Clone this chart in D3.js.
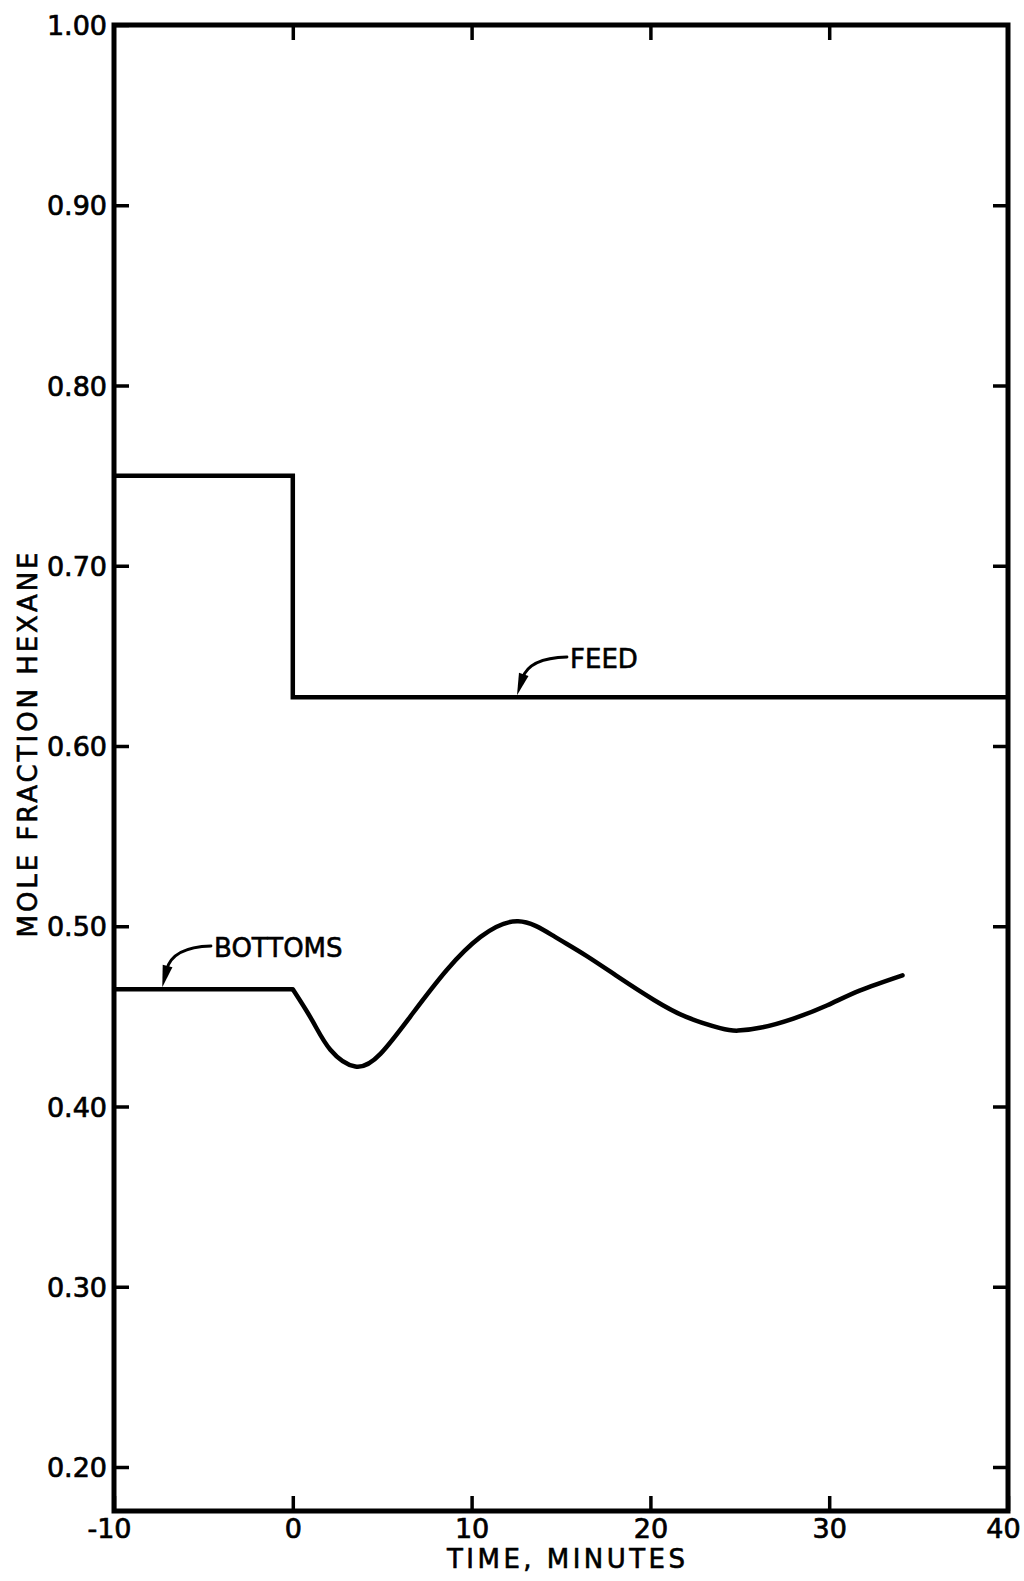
<!DOCTYPE html>
<html>
<head>
<meta charset="utf-8">
<script src="https://cdn.jsdelivr.net/npm/d3@7"></script>
<style>
  html, body { margin: 0; padding: 0; background: #fff; }
  svg { display: block; }
  text { font-family: "DejaVu Sans", "Liberation Sans", sans-serif; fill: #000; }
</style>
</head>
<body>
<svg id="chart" width="1024" height="1581"></svg>
<script>
// ---- data ----
const yTickValues = [0.2, 0.3, 0.4, 0.5, 0.6, 0.7, 0.8, 0.9, 1.0];
const xTickValues = [-10, 0, 10, 20, 30, 40];
const xLabel = "TIME, MINUTES";
const yLabel = "MOLE FRACTION HEXANE";

const feedTime  = [-10, 0, 0, 40];
const feedValue = [0.75, 0.75, 0.627, 0.627];

const bottomsFlatTime  = [-10, 0];
const bottomsFlatValue = [0.465, 0.465];

const bottomsTime  = [0, 1.1, 2.1, 3.5, 4.9, 6.7, 8.6, 10.5, 12.6, 14.6, 16.4, 18.3, 20.2, 22.0, 23.9, 24.9, 26.2, 28.0, 29.9, 31.7, 34.1];
const bottomsValue = [0.465, 0.4475, 0.4315, 0.4222, 0.4292, 0.4516, 0.4756, 0.4941, 0.5028, 0.4945, 0.4837, 0.4712, 0.4591, 0.4497, 0.4435, 0.4421, 0.4438, 0.4488, 0.4562, 0.4643, 0.4728];

// ---- layout ----
const L = 114, R = 1008, T = 25, B = 1511;
const svg = d3.select("#chart");

const x = d3.scaleLinear().domain([-10, 40]).range([L, R]);
const y = d3.scaleLinear().domain([0.2, 1.0]).range([1467, T]);

const tickLen = 15;
const fontSize = 27;

// left axis with labels
const gL = svg.append("g").attr("transform", `translate(${L},0)`)
  .call(d3.axisLeft(y).tickValues(yTickValues).tickFormat(d3.format(".2f"))
        .tickSizeInner(-tickLen).tickSizeOuter(0).tickPadding(7));
// bottom axis with labels
const gB = svg.append("g").attr("transform", `translate(0,${B})`)
  .call(d3.axisBottom(x).tickValues(xTickValues).tickFormat(d => String(d))
        .tickSizeInner(-tickLen).tickSizeOuter(0).tickPadding(8));
// right axis ticks only
const gR = svg.append("g").attr("transform", `translate(${R},0)`)
  .call(d3.axisRight(y).tickValues(yTickValues.slice(0, -1)).tickFormat("")
        .tickSizeInner(-tickLen).tickSizeOuter(0));
// top axis ticks only
const gT = svg.append("g").attr("transform", `translate(0,${T})`)
  .call(d3.axisTop(x).tickValues(xTickValues.slice(1, -1)).tickFormat("")
        .tickSizeInner(-tickLen).tickSizeOuter(0));

[gL, gB, gR, gT].forEach(g => {
  g.select(".domain").remove();
  g.selectAll(".tick line").attr("stroke", "#000").attr("stroke-width", 3.5);
  g.selectAll(".tick text")
    .style("font-family", '"DejaVu Sans", sans-serif')
    .style("font-size", fontSize + "px")
    .attr("fill", "#000")
    .attr("stroke", "#000").attr("stroke-width", 0.7);
});
gL.selectAll(".tick text").attr("dy", "0.36em");
gB.selectAll(".tick text").attr("dx", (d, i, n) => (i === 0 || i === n.length - 1) ? -5 : 0);

// frame
svg.append("rect")
  .attr("x", L).attr("y", T).attr("width", R - L).attr("height", B - T)
  .attr("fill", "none").attr("stroke", "#000").attr("stroke-width", 5);

// axis titles
svg.append("text")
  .attr("x", 566).attr("y", 1568)
  .attr("text-anchor", "middle")
  .attr("textLength", 238).attr("lengthAdjust", "spacing")
  .style("font-size", "26px")
  .attr("stroke", "#000").attr("stroke-width", 0.6)
  .text(xLabel);

svg.append("text")
  .attr("transform", "translate(37,745) rotate(-90)")
  .attr("text-anchor", "middle")
  .attr("textLength", 385).attr("lengthAdjust", "spacing")
  .style("font-size", "26px")
  .attr("stroke", "#000").attr("stroke-width", 0.6)
  .text(yLabel);

// series
const line = d3.line().x(d => x(d[0])).y(d => y(d[1]));

svg.append("path")
  .datum(feedTime.map((t, i) => [t, feedValue[i]]))
  .attr("d", line)
  .attr("fill", "none").attr("stroke", "#000").attr("stroke-width", 4.5)
  .attr("stroke-linejoin", "miter");

svg.append("path")
  .datum(bottomsFlatTime.map((t, i) => [t, bottomsFlatValue[i]]))
  .attr("d", line)
  .attr("fill", "none").attr("stroke", "#000").attr("stroke-width", 4.5);

svg.append("path")
  .datum(bottomsTime.map((t, i) => [t, bottomsValue[i]]))
  .attr("d", d3.line().x(d => x(d[0])).y(d => y(d[1])).curve(d3.curveNatural))
  .attr("fill", "none").attr("stroke", "#000").attr("stroke-width", 4.5)
  .attr("stroke-linecap", "round");

// annotation labels with curved arrows
function annotate(label, textX, textY, tipT, tipV, ctrlDx) {
  const ex = x(tipT), ey = y(tipV) - 2;
  const sx = textX - 3, sy = textY - 11;
  const cx = ex + ctrlDx, cy = sy + 1;
  let dx = ex - cx, dy = ey - cy;
  const len = Math.hypot(dx, dy); dx /= len; dy /= len;
  const headL = 22, headW = 5;
  const bx = ex - dx * headL, by = ey - dy * headL;
  svg.append("path")
    .attr("d", `M${sx},${sy} Q${cx},${cy} ${bx + dx * 4},${by + dy * 4}`)
    .attr("fill", "none").attr("stroke", "#000").attr("stroke-width", 2.8)
    .attr("stroke-linecap", "round");
  svg.append("path")
    .attr("d", `M${ex},${ey} L${bx - dy * headW},${by + dx * headW} L${bx + dy * headW},${by - dx * headW} Z`)
    .attr("fill", "#000");
  svg.append("text")
    .attr("x", textX).attr("y", textY)
    .style("font-size", "26px")
    .attr("stroke", "#000").attr("stroke-width", 0.6)
    .text(label);
}
annotate("FEED", 570, 668, 12.54, 0.627, 12);
annotate("BOTTOMS", 214, 957, -7.3, 0.465, 10);
</script>
</body>
</html>
